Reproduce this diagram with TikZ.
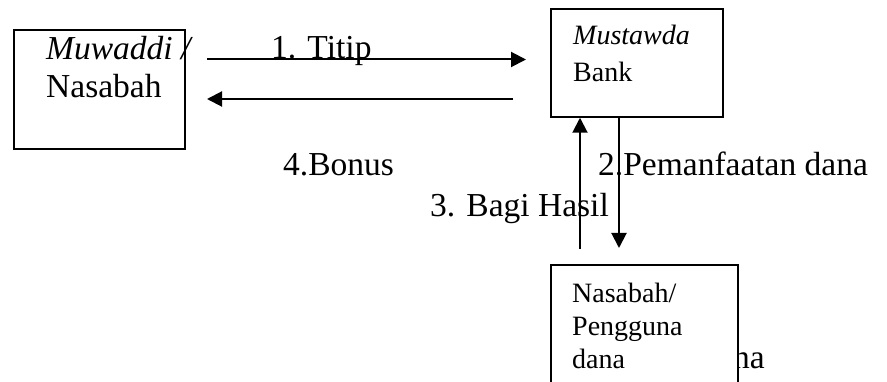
\documentclass[tikz,border=0pt]{standalone}
\usepackage{fontspec}
\newfontfamily\timesfont{Liberation Serif}
\usetikzlibrary{arrows.meta}
\begin{document}
\begin{tikzpicture}[x=1pt,y=-1pt,
  box/.style={draw,line width=1.5pt,fill=white,inner sep=0pt},
  pal/.style={font=\timesfont\fontsize{33.5}{38}\selectfont, inner sep=0pt, anchor=base west},
  tms/.style={font=\timesfont\fontsize{28}{33}\selectfont, inner sep=0pt, anchor=base west},
  arr/.style={line width=2pt,-{Triangle[length=15pt,width=15pt]}}]
\useasboundingbox (0,0) rectangle (887,382);
\clip (0,0) rectangle (887,382);
% boxes
\node[box, minimum width=171pt, minimum height=119pt] (mu) at (99.5,89.5) {};
\node[box, minimum width=172pt, minimum height=108pt] (bank) at (637,63) {};
% hidden text behind bottom box
\node[pal] (hid) at (733,369) {na};
\node[box, minimum width=187pt, minimum height=160pt] (user) at (644.5,345) {};
% box texts
\node[pal] (mu1) at (46,60) {\itshape Muwaddi /};
\node[pal] (mu2) at (46,98) {Nasabah};
\node[tms] (bk1) at (573,45) {\itshape Mustawda};
\node[tms] (bk2) at (573,82) {Bank};
\node[tms] (us1) at (572,303) {Nasabah/};
\node[tms] (us2) at (572,336) {Pengguna};
\node[tms] (us3) at (572,369) {dana};
% labels
\node[pal] (l1) at (271,59) {1. Titip};
\node[pal] (l4) at (283,176) {4.Bonus};
\node[pal] (l2) at (598,176) {2.Pemanfaatan dana};
\node[pal] (l3) at (430,217) {3. Bagi Hasil};
% connectors
\coordinate (t0) at (207,59.5);
\coordinate (t1) at (526,59.5);
\draw[arr] (t0) -- (t1);
\coordinate (r0) at (513,99);
\coordinate (r1) at (207,99);
\draw[arr] (r0) -- (r1);
\coordinate (u0) at (580,249);
\draw[arr] (u0) -- (u0 |- bank.south);
\coordinate (d1) at (619,248);
\draw[arr] (d1 |- bank.south) -- (d1);
\end{tikzpicture}
\end{document}
